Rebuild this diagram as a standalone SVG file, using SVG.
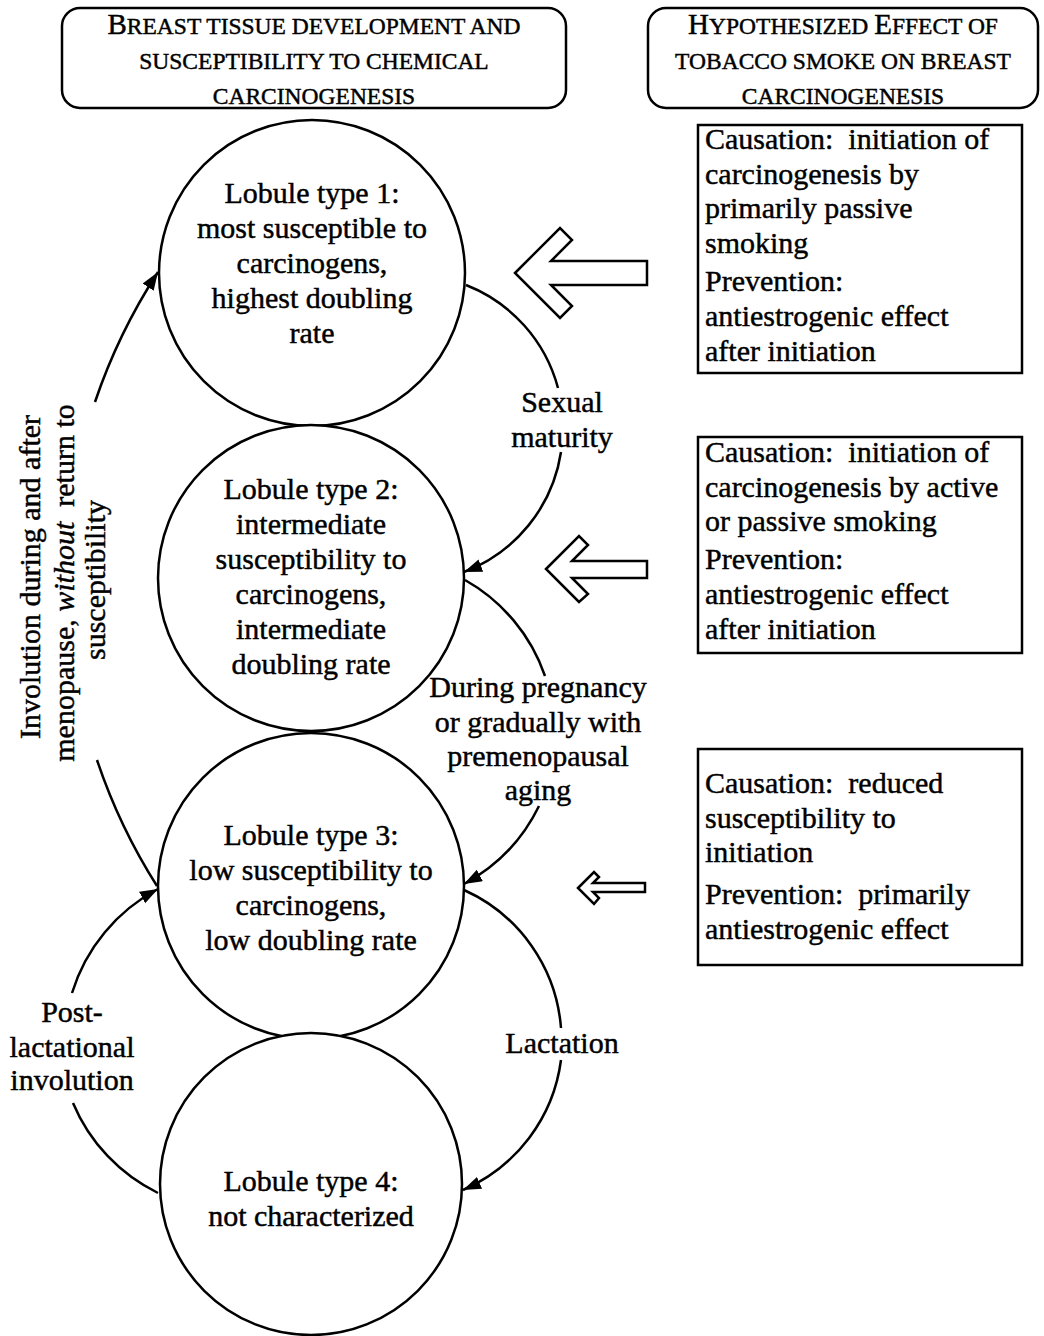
<svg xmlns="http://www.w3.org/2000/svg" width="1044" height="1336" viewBox="0 0 1044 1336">
<style>
  text { font-family: "Liberation Serif", "Times New Roman", serif; fill: #000; stroke: #000; stroke-width: 0.45; }
  .t { font-size: 30px; }
  .c { text-anchor: middle; }
  .sc { font-size: 23.5px; }
  .bc { font-size: 29px; }
  .hdr { fill: #fff; stroke: #000; stroke-width: 2.5; }
  .box { fill: #fff; stroke: #000; stroke-width: 2.5; }
  .lob { fill: #fff; stroke: #000; stroke-width: 2.5; }
  .arc { fill: none; stroke: #000; stroke-width: 2.5; }
  .blk { fill: #fff; stroke: #000; stroke-width: 2.5; stroke-linejoin: miter; }
</style>
<defs>
  <marker id="ah" markerUnits="userSpaceOnUse" markerWidth="20" markerHeight="14" refX="18" refY="6.5" orient="auto">
    <path d="M0,0 L18,6.5 L0,13 Z" fill="#000"/>
  </marker>
</defs>
<rect width="1044" height="1336" fill="#fff"/>

<g id="header-left">
  <rect class="hdr" x="62" y="8" width="504" height="100" rx="18"/>
  <text class="sc c" x="314" y="34"><tspan class="bc">B</tspan>REAST TISSUE DEVELOPMENT AND</text>
  <text class="sc c" x="314" y="69">SUSCEPTIBILITY TO CHEMICAL</text>
  <text class="sc c" x="314" y="104">CARCINOGENESIS</text>
</g>
<g id="header-right">
  <rect class="hdr" x="648" y="8" width="390" height="100" rx="18"/>
  <text class="sc c" x="843" y="34"><tspan class="bc">H</tspan>YPOTHESIZED <tspan class="bc">E</tspan>FFECT OF</text>
  <text class="sc c" x="843" y="69">TOBACCO SMOKE ON BREAST</text>
  <text class="sc c" x="843" y="104">CARCINOGENESIS</text>
</g>

<g id="connectors">
  <!-- Sexual maturity -->
  <path class="arc" d="M466,285 A153,153 0 0 1 558,388"/>
  <path class="arc" d="M561,452 A153,153 0 0 1 464,572" marker-end="url(#ah)"/>
  <!-- During pregnancy -->
  <path class="arc" d="M465,580 A176,176 0 0 1 545,676"/>
  <path class="arc" d="M539,806 A176,176 0 0 1 464,884" marker-end="url(#ah)"/>
  <!-- Lactation -->
  <path class="arc" d="M464,890 A165,165 0 0 1 561,1028"/>
  <path class="arc" d="M561,1060 A165,165 0 0 1 463,1190" marker-end="url(#ah)"/>
  <!-- Involution -->
  <path class="arc" d="M157,886 A576,576 0 0 1 97,760"/>
  <path class="arc" d="M95,402 A576,576 0 0 1 158,272" marker-end="url(#ah)"/>
  <!-- Post-lactational involution -->
  <path class="arc" d="M158,1193 A176,176 0 0 1 73,1103"/>
  <path class="arc" d="M72,993 A176,176 0 0 1 158,889" marker-end="url(#ah)"/>
  <!-- hollow block arrows -->
  <polygon class="blk" points="515,273 560,228 572,240 551,261 647,261 647,285 551,285 572,306 560,318"/>
  <polygon class="blk" points="546,569 579,536 588,545 572,561 647,561 647,578 572,578 588,594 579,602"/>
  <polygon class="blk" points="578,888 594,872 599,877 593,883 645,883 645,892 593,892 599,898 594,904"/>
</g>

<g id="label-sexual">
  <text class="t c" x="562" y="412">Sexual</text>
  <text class="t c" x="562" y="447">maturity</text>
</g>
<g id="label-pregnancy">
  <text class="t c" x="538" y="697">During pregnancy</text>
  <text class="t c" x="538" y="732">or gradually with</text>
  <text class="t c" x="538" y="766">premenopausal</text>
  <text class="t c" x="538" y="800">aging</text>
</g>
<g id="label-lactation">
  <text class="t c" x="562" y="1053">Lactation</text>
</g>
<g id="label-postlact">
  <text class="t c" x="72" y="1022">Post-</text>
  <text class="t c" x="72" y="1057">lactational</text>
  <text class="t c" x="72" y="1090">involution</text>
</g>
<g id="label-involution">
  <text class="t c" transform="translate(40,577) rotate(-90)">Involution during and after</text>
  <text class="t c" transform="translate(74,583) rotate(-90)" xml:space="preserve">menopause, <tspan font-style="italic">without</tspan>  return to</text>
  <text class="t c" transform="translate(105,580) rotate(-90)">susceptibility</text>
</g>

<g id="lobule1">
  <circle class="lob" cx="312" cy="273" r="153"/>
  <text class="t c" x="312" y="203">Lobule type 1:</text>
  <text class="t c" x="312" y="238">most susceptible to</text>
  <text class="t c" x="312" y="273">carcinogens,</text>
  <text class="t c" x="312" y="308">highest doubling</text>
  <text class="t c" x="312" y="343">rate</text>
</g>
<g id="lobule2">
  <circle class="lob" cx="311" cy="578" r="153"/>
  <text class="t c" x="311" y="499">Lobule type 2:</text>
  <text class="t c" x="311" y="534">intermediate</text>
  <text class="t c" x="311" y="569">susceptibility to</text>
  <text class="t c" x="311" y="604">carcinogens,</text>
  <text class="t c" x="311" y="639">intermediate</text>
  <text class="t c" x="311" y="674">doubling rate</text>
</g>
<g id="lobule3">
  <circle class="lob" cx="311" cy="886" r="153"/>
  <text class="t c" x="311" y="845">Lobule type 3:</text>
  <text class="t c" x="311" y="880">low susceptibility to</text>
  <text class="t c" x="311" y="915">carcinogens,</text>
  <text class="t c" x="311" y="950">low doubling rate</text>
</g>
<g id="lobule4">
  <circle class="lob" cx="311" cy="1184" r="151"/>
  <text class="t c" x="311" y="1191">Lobule type 4:</text>
  <text class="t c" x="311" y="1226">not characterized</text>
</g>

<g id="effect1">
  <rect class="box" x="698" y="125" width="324" height="248"/>
  <text class="t" xml:space="preserve"><tspan x="705" y="149">Causation:  initiation of</tspan><tspan x="705" y="184">carcinogenesis by</tspan><tspan x="705" y="218">primarily passive</tspan><tspan x="705" y="253">smoking</tspan><tspan x="705" y="291">Prevention:</tspan><tspan x="705" y="326">antiestrogenic effect</tspan><tspan x="705" y="361">after initiation</tspan></text>
</g>
<g id="effect2">
  <rect class="box" x="698" y="437" width="324" height="216"/>
  <text class="t" xml:space="preserve"><tspan x="705" y="462">Causation:  initiation of</tspan><tspan x="705" y="497">carcinogenesis by active</tspan><tspan x="705" y="531">or passive smoking</tspan><tspan x="705" y="569">Prevention:</tspan><tspan x="705" y="604">antiestrogenic effect</tspan><tspan x="705" y="639">after initiation</tspan></text>
</g>
<g id="effect3">
  <rect class="box" x="698" y="749" width="324" height="216"/>
  <text class="t" xml:space="preserve"><tspan x="705" y="793">Causation:  reduced</tspan><tspan x="705" y="828">susceptibility to</tspan><tspan x="705" y="862">initiation</tspan><tspan x="705" y="904">Prevention:  primarily</tspan><tspan x="705" y="939">antiestrogenic effect</tspan></text>
</g>
</svg>
